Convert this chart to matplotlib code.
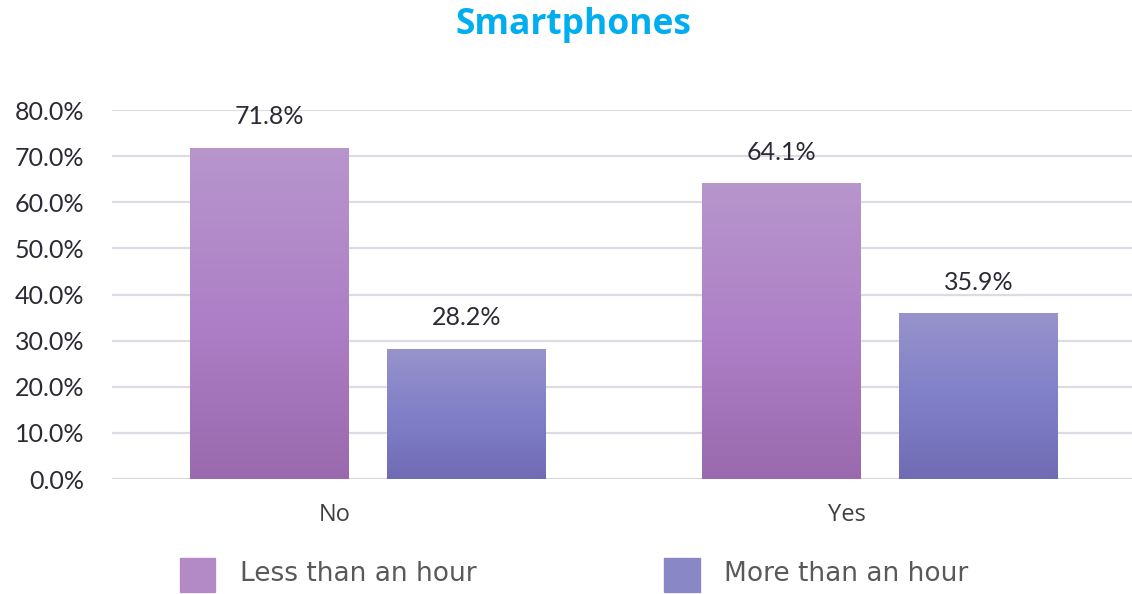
import numpy as np
import matplotlib.pyplot as plt
import matplotlib.transforms as mtransforms
from matplotlib.colors import LinearSegmentedColormap
from matplotlib.patches import Rectangle

# 数据
categories = ['No', 'Yes']
series_names = ['Less than an hour', 'More than an hour']
less_values = [71.8, 64.1]
more_values = [28.2, 35.9]

# 渐变色 (上 -> 中 -> 下)
grad_less = ['#b796cc', '#ae80c7', '#9a69ae']
grad_more = ['#9893cb', '#8080c8', '#706cb4']
legend_colors = ['#b38ac6', '#8a87c6']

plt.rcParams['font.family'] = ['Open Sans', 'DejaVu Sans']

fig = plt.figure(figsize=(11.32, 5.94), dpi=100)
ax = fig.add_axes([0.0989, 0.1936, 0.9046, 0.6212])

x = np.arange(len(categories)) + 0.5
width = 0.31
gap = 0.075
offset = (width + gap) / 2


def gradient_bars(xs, vals, stops):
    cmap = LinearSegmentedColormap.from_list('g', stops[::-1])
    grad = np.linspace(0, 1, 256).reshape(-1, 1)
    bars = ax.bar(xs, vals, width, color='none', edgecolor='none', zorder=3)
    for b in bars:
        x0, y0 = b.get_x(), b.get_y()
        w, h = b.get_width(), b.get_height()
        im = ax.imshow(grad, cmap=cmap, aspect='auto', origin='lower',
                       extent=[x0, x0 + w, y0, y0 + h], zorder=3)
        clip = Rectangle((x0, y0), w, h, transform=ax.transData)
        im.set_clip_path(clip)
    return bars


bars1 = gradient_bars(x - offset, less_values, grad_less)
bars2 = gradient_bars(x + offset, more_values, grad_more)

for bars, vals in [(bars1, less_values), (bars2, more_values)]:
    for b, v in zip(bars, vals):
        ax.annotate(f'{v:.1f}%', (b.get_x() + b.get_width() / 2, v),
                    xytext=(0, 14), textcoords='offset points',
                    ha='center', va='bottom', fontsize=18,
                    color='#2a2a36', family=['Lato', 'DejaVu Sans'])

ax.set_xlim(0, 2)
ax.set_ylim(0, 80)
ax.set_yticks(np.arange(0, 81, 10))
ax.set_yticklabels([f'{v:.1f}%' for v in np.arange(0, 81, 10)],
                   family=['Lato', 'DejaVu Sans'])
ax.tick_params(axis='y', length=0, pad=20, labelsize=18, labelcolor='#2a2a36')
ax.grid(axis='y', color='#dcdbe3', linewidth=1.6, zorder=0)
ax.set_axisbelow(True)
for s in ax.spines.values():
    s.set_visible(False)
ax.axhline(0, color='#d6d5de', linewidth=1.8, zorder=2)

ax.set_xticks(x)
ax.set_xticklabels(categories, fontsize=17, color='#404040')
ax.tick_params(axis='x', length=0, pad=17)
shift = mtransforms.ScaledTranslation(-0.33, 0, fig.dpi_scale_trans)
for lbl in ax.get_xticklabels():
    lbl.set_transform(lbl.get_transform() + shift)

fig.text(0.507, 0.958, 'Smartphones', ha='center', va='center',
         fontsize=25.5, fontweight='bold', color='#00aeef')

# 图例
leg_x = [0.159, 0.587]
for lx, name, c in zip(leg_x, series_names, legend_colors):
    fig.patches.append(Rectangle((lx, 0.003), 0.031, 0.058, color=c,
                                 transform=fig.transFigure, figure=fig))
    fig.text(lx + 0.053, 0.033, name, ha='left', va='center', fontsize=19,
             color='#595959', family=['Liberation Sans Narrow', 'DejaVu Sans'])

fig.savefig('out.png', dpi=100)
